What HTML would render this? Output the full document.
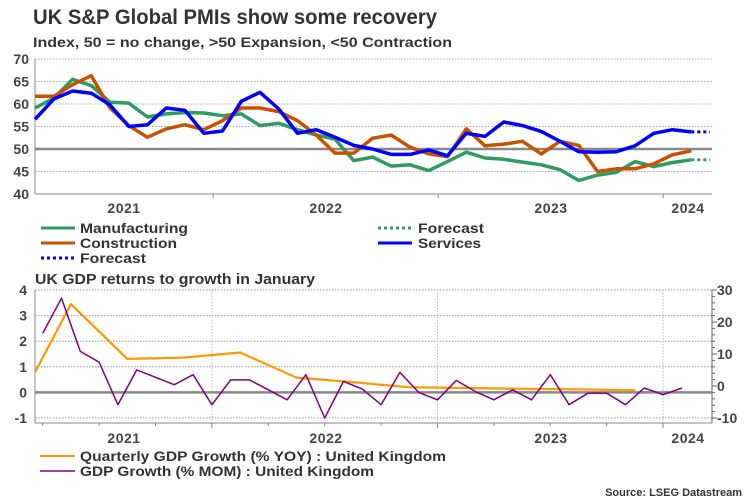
<!DOCTYPE html>
<html><head><meta charset="utf-8"><style>
body{margin:0;background:#fff;}
svg{display:block;font-family:"Liberation Sans",Arial,sans-serif;}
</style></head><body>
<svg id="c" width="750" height="500" viewBox="0 0 750 500">
<text x="33" y="24" font-size="21" font-weight="bold" fill="#333" textLength="404" lengthAdjust="spacingAndGlyphs">UK S&amp;P Global PMIs show some recovery</text>
<text x="33" y="47" font-size="14" font-weight="bold" fill="#333" textLength="419" lengthAdjust="spacingAndGlyphs">Index, 50 = no change, &gt;50 Expansion,  &lt;50 Contraction</text>
<g id="top"></g>
<g id="bot"></g>
<g font-size="14" font-weight="bold" fill="#333">
<line x1="41" y1="228" x2="75" y2="228" stroke="#2e9b62" stroke-width="3"/><text x="80" y="233" textLength="108" lengthAdjust="spacingAndGlyphs">Manufacturing</text>
<line x1="378" y1="228" x2="412" y2="228" stroke="#2e9b62" stroke-width="3" stroke-dasharray="3,3"/><text x="418" y="233" textLength="66" lengthAdjust="spacingAndGlyphs">Forecast</text>
<line x1="41" y1="243" x2="75" y2="243" stroke="#c85200" stroke-width="3"/><text x="80" y="248" textLength="97" lengthAdjust="spacingAndGlyphs">Construction</text>
<line x1="378" y1="243" x2="412" y2="243" stroke="#0000ff" stroke-width="3"/><text x="418" y="248" textLength="63" lengthAdjust="spacingAndGlyphs">Services</text>
<line x1="41" y1="258" x2="75" y2="258" stroke="#0000ff" stroke-width="3" stroke-dasharray="3,3"/><text x="80" y="263" textLength="66" lengthAdjust="spacingAndGlyphs">Forecast</text>
</g>
<text x="35" y="284" font-size="15" fill="#333" font-weight="bold" textLength="280" lengthAdjust="spacingAndGlyphs">UK GDP returns to growth in January</text>
<g font-size="13.5" fill="#333" font-weight="bold">
<line x1="40" y1="456" x2="75" y2="456" stroke="#ff9900" stroke-width="2"/><text x="80" y="461" textLength="366" lengthAdjust="spacingAndGlyphs">Quarterly GDP Growth (% YOY) : United Kingdom</text>
<line x1="40" y1="471" x2="75" y2="471" stroke="#800080" stroke-width="1.5"/><text x="80" y="476" textLength="294" lengthAdjust="spacingAndGlyphs">GDP Growth (% MOM) : United Kingdom</text>
</g>
<text x="742" y="496" font-size="11" font-weight="bold" fill="#333" text-anchor="end">Source: LSEG Datastream</text>
</svg>
<script>
const manufacturing=[59.1,61.3,65.5,64.1,60.4,60.2,57.1,57.8,58.1,58.0,57.4,57.8,55.2,55.7,54.3,53.1,52.2,47.4,48.2,46.2,46.5,45.2,47.2,49.3,48.0,47.7,47.1,46.5,45.4,43.0,44.2,44.8,47.2,46.1,47.0,47.6];
const construction=[61.7,61.7,64.3,66.3,59.1,55.2,52.6,54.5,55.4,54.3,56.3,59.1,59.1,58.3,56.3,53.1,49.1,49.1,52.4,53.1,50.4,48.9,48.3,54.5,50.7,51.1,51.7,48.9,51.7,50.8,45.0,45.6,45.6,46.7,48.7,49.6];
const services=[56.6,61.1,62.9,62.4,59.8,55.0,55.4,59.1,58.6,53.5,54.0,60.6,62.6,58.9,53.5,54.3,52.6,50.8,50.0,48.8,48.8,49.8,48.5,53.5,52.8,56.0,55.2,53.9,51.7,49.4,49.3,49.4,50.7,53.5,54.3,53.8];
const manufacturingForecast=[47.6,47.6];
const servicesForecast=[53.8,53.8];
const pmiTicks=[40,45,50,55,60,65,70];
const yearLabels=["2021","2022","2023","2024"];
const gdpMom=[2.31,3.68,1.6,1.18,-0.48,0.88,0.59,0.3,0.69,-0.48,0.49,0.49,0.1,-0.29,0.69,-1.0,0.43,0.13,-0.48,0.78,0.0,-0.29,0.47,0.04,-0.29,0.1,-0.29,0.69,-0.48,-0.03,-0.03,-0.48,0.17,-0.09,0.17];
const gdpYoy=[-0.73,3.45,1.31,1.36,1.56,0.58,0.40,0.20,0.17,0.14,0.12,0.08];
const leftTicks=[-1,0,1,2,3,4];
const rightTicks=[-10,0,10,20,30];
const NS="http://www.w3.org/2000/svg";
function mk(p,t,a){const e=document.createElementNS(NS,t);for(const k in a)e.setAttribute(k,a[k]);p.appendChild(e);return e;}
const T=document.getElementById('top');
const L=35,R=712,tY0=59,tY1=194;
const ty=v=>tY0+(70-v)*(tY1-tY0)/30;
const tx=i=>35+18.75*i;
pmiTicks.forEach(v=>{
 if(v>40&&v!==50){const g=mk(T,'line',{x1:L,x2:R,y1:ty(v),y2:ty(v),stroke:'#aaa','stroke-dasharray':'1.5,1.5','stroke-width':1});
 }
 const t=mk(T,'text',{x:29,y:ty(v)+5,'text-anchor':'end','font-size':14,'font-weight':'bold',fill:'#444'});t.textContent=v;
 
});
mk(T,'line',{x1:L,x2:L,y1:tY0,y2:tY1,stroke:'#888','stroke-width':1});
mk(T,'line',{x1:L,x2:R,y1:tY1,y2:tY1,stroke:'#888','stroke-width':1});
[9.5,21.5,33.5].forEach(i=>mk(T,'line',{x1:tx(i),x2:tx(i),y1:tY1,y2:tY1+4,stroke:'#888'}));
const fifty=mk(T,'line',{x1:L,x2:R,y1:ty(50),y2:ty(50),stroke:'#888','stroke-width':2.5});

[[124,yearLabels[0]],[326,yearLabels[1]],[551,yearLabels[2]],[688,yearLabels[3]]].forEach(([x,s])=>{
 const t=mk(T,'text',{x:x,y:213,'text-anchor':'middle','font-size':14,'font-weight':'bold',fill:'#444','letter-spacing':'0.5'});t.textContent=s;
 });
function line(p,arr,fx,fy,col,w,dash,off){
 const pts=arr.map((v,i)=>fx(i+(off||0)).toFixed(1)+','+fy(v).toFixed(1)).join(' ');
 const a={points:pts,fill:'none',stroke:col,'stroke-width':w,'stroke-linejoin':'round'};if(dash)a['stroke-dasharray']=dash;
 return mk(p,'polyline',a);}
let e;
e=line(T,manufacturing,tx,ty,'#2e9b62',3.5);
e=line(T,construction,tx,ty,'#c85200',3.5);
e=line(T,services,tx,ty,'#0000ff',3.5);
e=line(T,manufacturingForecast,tx,ty,'#2e9b62',3,'3,3',manufacturing.length-1);
e=line(T,servicesForecast,tx,ty,'#0000ff',3,'3,3',services.length-1);
const B=document.getElementById('bot');
const bY0=290,bY1=418,bAx=423;
const ly=v=>bY0+(4-v)*(bY1-bY0)/5;
const ry=v=>bY0+(30-v)*(bY1-bY0)/40;
const bx=i=>42.7+18.8*i;
mk(mk(B,'clipPath',{id:'bclip'}),'rect',{x:L,y:285,width:R-L,height:140});
leftTicks.forEach(v=>{
 if(v!==0){const g=mk(B,'line',{x1:L,x2:R,y1:ly(v),y2:ly(v),stroke:'#999','stroke-dasharray':'1.5,1.5'});
 }
 const t=mk(B,'text',{x:27,y:ly(v)+5,'text-anchor':'end','font-size':14,'font-weight':'bold',fill:'#444'});t.textContent=v;
 });
rightTicks.forEach(v=>{
 const t=mk(B,'text',{x:717,y:ry(v)+5,'font-size':14,'font-weight':'bold',fill:'#444'});t.textContent=v;
 
 mk(B,'line',{x1:R,x2:R+5,y1:ry(v),y2:ry(v),stroke:'#666'});});
for(let v=-10;v<=30;v+=2)mk(B,'line',{x1:R,x2:R+3,y1:ry(v),y2:ry(v),stroke:'#666'});
[9,21,33].forEach(i=>mk(B,'line',{x1:bx(i),x2:bx(i),y1:bY0,y2:bAx,stroke:'#bbb','stroke-dasharray':'1.5,1.5'}));
mk(B,'line',{x1:L,x2:L,y1:bY0,y2:bAx,stroke:'#888'});
mk(B,'line',{x1:R,x2:R,y1:bY0,y2:bAx,stroke:'#666'});
mk(B,'line',{x1:L,x2:R,y1:bAx,y2:bAx,stroke:'#888'});
for(let i=0;i<=33;i+=3)mk(B,'line',{x1:bx(i),x2:bx(i),y1:bAx,y2:bAx+(i%12===9?5:3),stroke:'#888'});
e=mk(B,'line',{x1:L,x2:R,y1:ly(0),y2:ly(0),stroke:'#888','stroke-width':2.5});
[[124,yearLabels[0]],[326,yearLabels[1]],[551,yearLabels[2]],[688,yearLabels[3]]].forEach(([x,s])=>{
 const t=mk(B,'text',{x:x,y:443,'text-anchor':'middle','font-size':14,'font-weight':'bold',fill:'#444','letter-spacing':'0.5'});t.textContent=s;
 });
const qx=k=>bx(3*k-1.5);
e=line(B,gdpYoy,qx,ly,'#ff9900',2.2);e.setAttribute('clip-path','url(#bclip)');

e=line(B,gdpMom,bx,ly,'#800080',1.5);

</script>
</body></html>
